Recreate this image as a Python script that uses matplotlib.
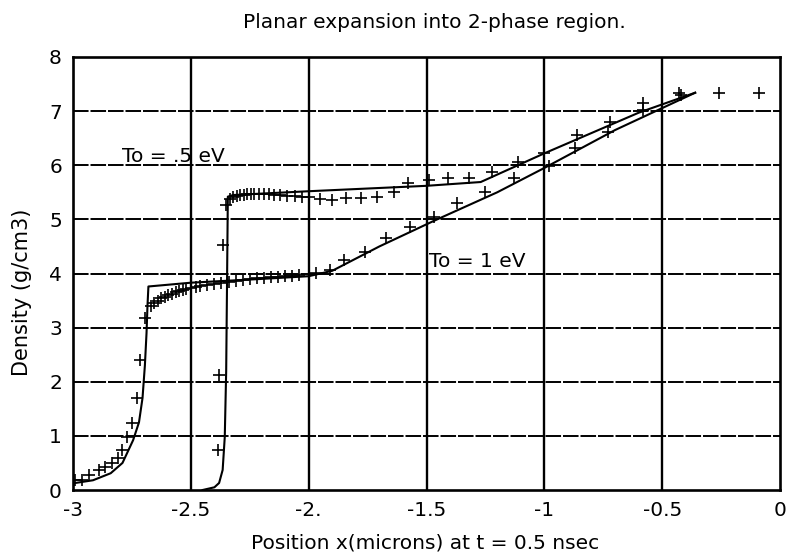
import matplotlib
matplotlib.use("Agg")
import matplotlib.pyplot as plt

# Model curves (solid lines)
x_half_ev = [-2.45, -2.40, -2.38, -2.365, -2.356, -2.350, -2.346, -2.343,
             -2.32, -2.0, -1.5, -1.27, -1.0, -0.6, -0.36]
y_half_ev = [0.0, 0.05, 0.13, 0.37, 0.98, 2.2, 4.0, 5.42,
             5.45, 5.52, 5.62, 5.69, 6.22, 6.97, 7.34]

x_one_ev = [-3.0, -2.99, -2.915, -2.84, -2.79, -2.745, -2.72, -2.705,
            -2.695, -2.688, -2.684, -2.68, -2.5, -2.2, -2.0, -1.9, -1.7,
            -1.47, -1.2, -1.0, -0.7, -0.36]
y_one_ev = [0.12, 0.13, 0.18, 0.31, 0.50, 0.92, 1.25, 1.7,
            2.3, 2.9, 3.4, 3.76, 3.83, 3.9, 3.95, 4.05, 4.5,
            4.97, 5.5, 5.95, 6.65, 7.34]

# Simulation points (+ markers)
px_half_ev = [-2.385, -2.38, -2.365, -2.35, -2.335, -2.32, -2.305, -2.29,
              -2.275, -2.26, -2.245, -2.23, -2.21, -2.19, -2.17, -2.145,
              -2.12, -2.09, -2.06, -2.03, -2.0, -1.95, -1.9, -1.84, -1.78,
              -1.71, -1.64, -1.58, -1.49, -1.41, -1.32, -1.22, -1.11, -1.0,
              -0.86, -0.72, -0.58, -0.43, -0.26, -0.09]
py_half_ev = [0.74, 2.13, 4.53, 5.27, 5.38, 5.42, 5.44, 5.45,
              5.45, 5.46, 5.46, 5.46, 5.46, 5.46, 5.46, 5.45,
              5.45, 5.44, 5.43, 5.42, 5.42, 5.38, 5.36, 5.40, 5.40,
              5.42, 5.50, 5.67, 5.73, 5.77, 5.77, 5.88, 6.06, 6.22,
              6.56, 6.80, 7.15, 7.33, 7.33, 7.33]

px_one_ev = [-2.99, -2.96, -2.93, -2.89, -2.865, -2.835, -2.81, -2.79,
             -2.77, -2.75, -2.73, -2.716, -2.695, -2.67, -2.655, -2.64,
             -2.625, -2.61, -2.595, -2.58, -2.565, -2.55, -2.535, -2.52,
             -2.50, -2.48, -2.46, -2.43, -2.40, -2.37, -2.34, -2.31, -2.28,
             -2.25, -2.22, -2.19, -2.16, -2.13, -2.10, -2.07, -2.04, -1.97,
             -1.91, -1.85, -1.76, -1.67, -1.57, -1.47, -1.37, -1.25, -1.13,
             -0.98, -0.87, -0.73, -0.58, -0.42]
py_one_ev = [0.18, 0.18, 0.28, 0.37, 0.43, 0.50, 0.59, 0.74,
             0.98, 1.24, 1.70, 2.40, 3.18, 3.40, 3.45, 3.50,
             3.54, 3.57, 3.60, 3.63, 3.66, 3.68, 3.70, 3.72,
             3.74, 3.75, 3.76, 3.78, 3.80, 3.83, 3.85, 3.87, 3.88,
             3.90, 3.91, 3.92, 3.93, 3.94, 3.95, 3.96, 3.98, 4.01,
             4.07, 4.25, 4.40, 4.66, 4.86, 5.05, 5.30, 5.51, 5.77,
             5.98, 6.32, 6.62, 7.02, 7.30]

x_ticks = [-3, -2.5, -2, -1.5, -1, -0.5, 0]
x_tick_labels = ["-3", "-2.5", "-2.", "-1.5", "-1", "-0.5", "0"]
y_ticks = [0, 1, 2, 3, 4, 5, 6, 7, 8]
y_tick_labels = ["0", "1", "2", "3", "4", "5", "6", "7", "8"]

plt.rcParams["font.family"] = ["DejaVu Sans"]

fig = plt.figure(figsize=(7.88, 5.55), dpi=100)
ax = fig.add_axes([73 / 788, 1 - 490 / 555, (780 - 73) / 788, (490 - 57) / 555])

ax.set_xlim(-3, 0)
ax.set_ylim(0, 8)

# Grid: heavy solid verticals, dashed horizontals
for xv in x_ticks[1:-1]:
    ax.axvline(xv, color="black", lw=1.7, zorder=1)
for yv in y_ticks[1:-1]:
    ax.axhline(yv, color="black", lw=1.4, dashes=(8, 1.0), zorder=1)

ax.plot(x_half_ev, y_half_ev, color="black", lw=1.5, zorder=3)
ax.plot(x_one_ev, y_one_ev, color="black", lw=1.5, zorder=3)
ax.plot(px_half_ev, py_half_ev, ls="none", marker="+", ms=9, mew=1.2,
        color="black", zorder=4)
ax.plot(px_one_ev, py_one_ev, ls="none", marker="+", ms=9, mew=1.2,
        color="black", zorder=4)

ax.text(-2.79, 6.16, "To = .5 eV", fontsize=14.5, va="center", ha="left")
ax.text(-1.49, 4.23, "To = 1 eV", fontsize=14.5, va="center", ha="left")

ax.set_xticks(x_ticks)
ax.set_xticklabels(x_tick_labels, fontsize=14.5)
ax.set_yticks(y_ticks)
ax.set_yticklabels(y_tick_labels, fontsize=14.5)
ax.tick_params(length=0, pad=8)

for s in ax.spines.values():
    s.set_linewidth(1.9)
    s.set_color("black")

fig.text(434 / 788, 1 - 22 / 555, "Planar expansion into 2-phase region.",
         fontsize=14.5, ha="center", va="center")
fig.text(425 / 788, 1 - 543 / 555, "Position x(microns) at t = 0.5 nsec",
         fontsize=14.5, ha="center", va="center")
fig.text(22 / 788, 1 - 292 / 555, "Density (g/cm3)", fontsize=15,
         ha="center", va="center", rotation=90)

fig.savefig("out.png", dpi=100)
